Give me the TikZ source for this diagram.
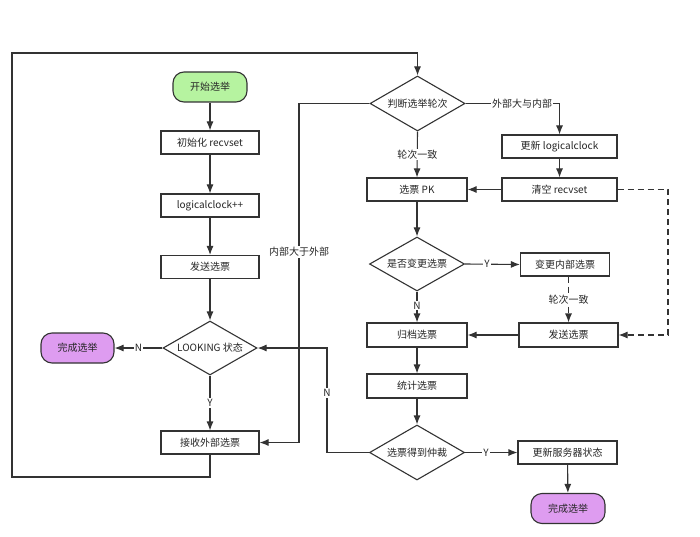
\documentclass[tikz,border=0pt]{standalone}
\usepackage{fontspec}
\setmainfont{Noto Sans CJK SC}
\usetikzlibrary{shapes.geometric,arrows.meta}
\definecolor{ln}{HTML}{333333}
\definecolor{termgreen}{HTML}{B6F3A0}
\definecolor{termpurple}{HTML}{DE9CF0}
\begin{document}
\begin{tikzpicture}[x=1pt,y=-1pt,
  font=\fontsize{10}{12}\selectfont,
  box/.style={draw=ln, line width=1.1pt, rectangle, minimum width=98pt, minimum height=23pt, inner sep=1pt, fill=white, text=black!85},
  term/.style={draw=ln, line width=1.1pt, rectangle, rounded corners=11pt, minimum width=74pt, minimum height=30pt, inner sep=1pt, text=black!85},
  dia/.style={draw=ln, line width=1.1pt, diamond, aspect=2.4, minimum width=95pt, minimum height=55pt, inner sep=0pt, text=black!85},
  lab/.style={fill=white, inner sep=1pt, text=black!85, draw=none},
  arr/.style={draw=ln, line width=1.1pt, -{Latex[length=9pt,width=7pt]}},
  dsh/.style={dash pattern=on 6pt off 4pt}
]
\fill[white] (0,0) rectangle (700,537);
\useasboundingbox (0,0) rectangle (700,537);

% left column
\node[term, fill=termgreen] (start) at (210,87) {开始选举};
\node[box] (init) at (210,142.5) {初始化 recvset};
\node[box] (lc) at (210,205.5) {logicalclock++};
\node[box] (send1) at (210,267) {发送选票};
\node[dia, minimum width=94pt, minimum height=54pt] (looking) at (210,348) {LOOKING 状态};
\node[term, fill=termpurple, minimum width=73pt] (done1) at (77.5,348) {完成选举};
\node[box] (recv) at (210,442.5) {接收外部选票};

% right column
\node[dia] (judge) at (417.5,103.5) {判断选举轮次};
\node[box, minimum width=115pt] (upd) at (559.5,146.5) {更新 logicalclock};
\node[box, minimum width=100pt] (pk) at (417,189.5) {选票 PK};
\node[box, minimum width=115pt] (clr) at (559.5,189.5) {清空 recvset};
\node[dia, minimum height=54pt] (chg) at (417,264) {是否变更选票};
\node[box, minimum width=89pt] (chgin) at (565,264.5) {变更内部选票};
\node[box, minimum width=99pt, minimum height=24pt] (send2) at (568.5,335) {发送选票};
\node[box, minimum width=100pt, minimum height=24pt] (arch) at (417,335) {归档选票};
\node[box, minimum width=100pt, minimum height=24pt] (stat) at (417,386) {统计选票};
\node[dia] (arb) at (417,452.5) {选票得到仲裁};
\node[box, minimum width=99pt] (srv) at (567.5,452.5) {更新服务器状态};
\node[term, fill=termpurple] (done2) at (568,508.5) {完成选举};

% helper coordinates
\coordinate (lpB) at (210,477);
\coordinate (lpBL) at (12,477);
\coordinate (lpTL) at (12,53);
\coordinate (lpTR) at (417.5,53);
\coordinate (inT) at (299,103.5);
\coordinate (inB) at (299,442.5);
\coordinate (exR) at (559.5,103.5);
\coordinate (dR1) at (668,189.5);
\coordinate (dR2) at (668,335);
\coordinate (nB) at (327,452.5);
\coordinate (nT) at (327,348);

% left column edges
\draw[arr] (start) -- (init);
\draw[arr] (init) -- (lc);
\draw[arr] (lc) -- (send1);
\draw[arr] (send1) -- (looking);
\draw[arr] (looking) -- node[lab] {N} (done1);
\draw[arr] (looking) -- node[lab] {Y} (recv);
\draw[arr] (recv.south) -- (lpB) -- (lpBL) -- (lpTL) -- (lpTR) -- (judge.north);

% internal > external
\draw[arr] (judge.west) -- (inT) -- (inB) -- (recv.east);
\node[lab] at (299,252) {内部大于外部};

% external > internal
\draw[arr] (judge.east) -- (exR) -- (upd.north);
\node[lab] at (522,103.5) {外部大与内部};

\draw[arr] (judge.south) -- node[lab] {轮次一致} (pk.north);
\draw[arr] (upd) -- (clr);
\draw[arr] (clr.west) -- (pk.east);
\draw[arr, dsh] (clr.east) -- (dR1) -- (dR2) -- (send2.east);
\draw[arr] (pk) -- (chg);
\draw[arr] (chg.east) -- node[lab, pos=0.4] {Y} (chgin.west);
\draw[arr] (chg.south) -- node[lab, pos=0.45] {N} (arch.north);
\draw[arr, dsh] (chgin.south -| send2.north) -- node[lab] {轮次一致} (send2.north);
\draw[arr] (send2.west) -- (arch.east);
\draw[arr] (arch) -- (stat);
\draw[arr] (stat) -- (arb);
\draw[arr] (arb.east) -- node[lab, pos=0.4] {Y} (srv.west);
\draw[arr] (srv) -- (done2);
\draw[arr] (arb.west) -- (nB) -- (nT) -- (looking.east);
\node[lab] at (327,393) {N};
\end{tikzpicture}
\end{document}
